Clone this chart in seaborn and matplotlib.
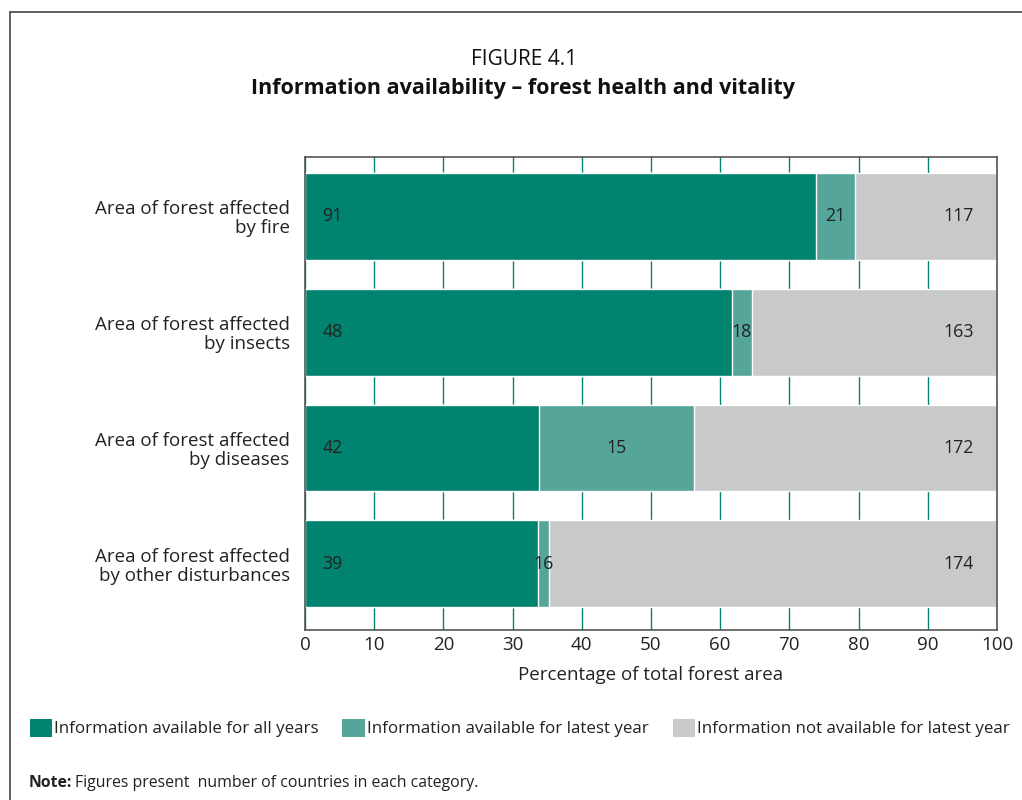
import pandas as pd
import numpy as np
import matplotlib.pyplot as plt
import seaborn as sns
from matplotlib.patches import Patch
from matplotlib.lines import Line2D

# datos (porcentaje del área forestal total y número de países)
categorias = ["Area of forest affected\nby fire",
              "Area of forest affected\nby insects",
              "Area of forest affected\nby diseases",
              "Area of forest affected\nby other disturbances"]
pct_todos = [73.8, 61.7, 33.8, 33.7]
pct_ultimo = [5.7, 2.9, 22.4, 1.6]
paises_todos = [91, 48, 42, 39]
paises_ultimo = [21, 18, 15, 16]
paises_no = [117, 163, 172, 174]
series = ["Information available for all years",
          "Information available for latest year",
          "Information not available for latest year"]
colores = ["#00836F", "#55A59B", "#C8C9CA"]

df = pd.DataFrame({"cat": categorias, "todos": pct_todos, "ultimo": pct_ultimo})
df["acum1"] = df["todos"]
df["acum2"] = df["todos"] + df["ultimo"]
df["total"] = 100.0

sns.set_style("white")
plt.rcParams["font.family"] = ["Open Sans", "DejaVu Sans"]

fig = plt.figure(figsize=(10.22, 8), dpi=100)
ax = fig.add_axes([0.2984, 0.2125, 0.6771, 0.5912])

# barras apiladas: de la más larga a la más corta
for col, c in zip(["total", "acum2", "acum1"], colores[::-1]):
    sns.barplot(data=df, x=col, y="cat", color=c, width=0.75,
                saturation=1, ax=ax, zorder=2)

# etiquetas con número de países
for i in range(len(categorias)):
    ax.text(4.0, i, str(paises_todos[i]), ha="center", va="center",
            fontsize=12.8, color="#222222", zorder=3)
    ax.text(pct_todos[i] + pct_ultimo[i] / 2, i, str(paises_ultimo[i]),
            ha="center", va="center", fontsize=12.8, color="#222222", zorder=3)
    ax.text(94.5, i, str(paises_no[i]), ha="center", va="center",
            fontsize=12.8, color="#222222", zorder=3)

ax.set_xlim(0, 100)
ax.set_ylim(3.57, -0.51)
ax.set_xticks(np.arange(0, 101, 10))
ax.xaxis.grid(True, color="#00836F", linewidth=1)
ax.set_axisbelow(True)
ax.tick_params(axis="both", length=0, colors="#222222")
ax.tick_params(axis="x", pad=4, labelsize=13.5)
ax.tick_params(axis="y", pad=11, labelsize=13.5)
for lab in ax.get_yticklabels():
    lab.set_horizontalalignment("right")
    lab.set_multialignment("right")
    lab.set_linespacing(1.05)
ax.set_ylabel("")
ax.set_xlabel("Percentage of total forest area", fontsize=13.5,
              color="#222222", labelpad=9)
for s in ax.spines.values():
    s.set_color("#555555")
    s.set_linewidth(1.2)

# títulos
fig.text(0.513, 0.926, "FIGURE 4.1", ha="center", va="center",
         fontsize=15, color="#111111")
fig.text(0.512, 0.889, "Information availability – forest health and vitality",
         ha="center", va="center", fontsize=15.5, fontweight="bold",
         color="#111111")

# leyenda
handles = [Patch(facecolor=c, edgecolor="none") for c in colores]
fig.legend(handles, series, loc="center left", bbox_to_anchor=(0.014, 0.09),
           ncol=3, frameon=False, fontsize=12.2, handlelength=1.3,
           handleheight=1.3, handletextpad=0.15, columnspacing=1.4,
           labelcolor="#222222")

# nota
fig.text(0.0284, 0.021, "Note:", fontsize=11.4, va="center",
         fontweight="bold", color="#222222")
fig.text(0.0735, 0.021, "Figures present  number of countries in each category.",
         fontsize=11.4, va="center", color="#222222")

# marco
fig.add_artist(Line2D([0.0098, 1.0], [0.985, 0.985], color="#444444", lw=1.2))
fig.add_artist(Line2D([0.0098, 0.0098], [0.0, 0.985], color="#444444", lw=1.2))

fig.savefig("out.png", dpi=100)
